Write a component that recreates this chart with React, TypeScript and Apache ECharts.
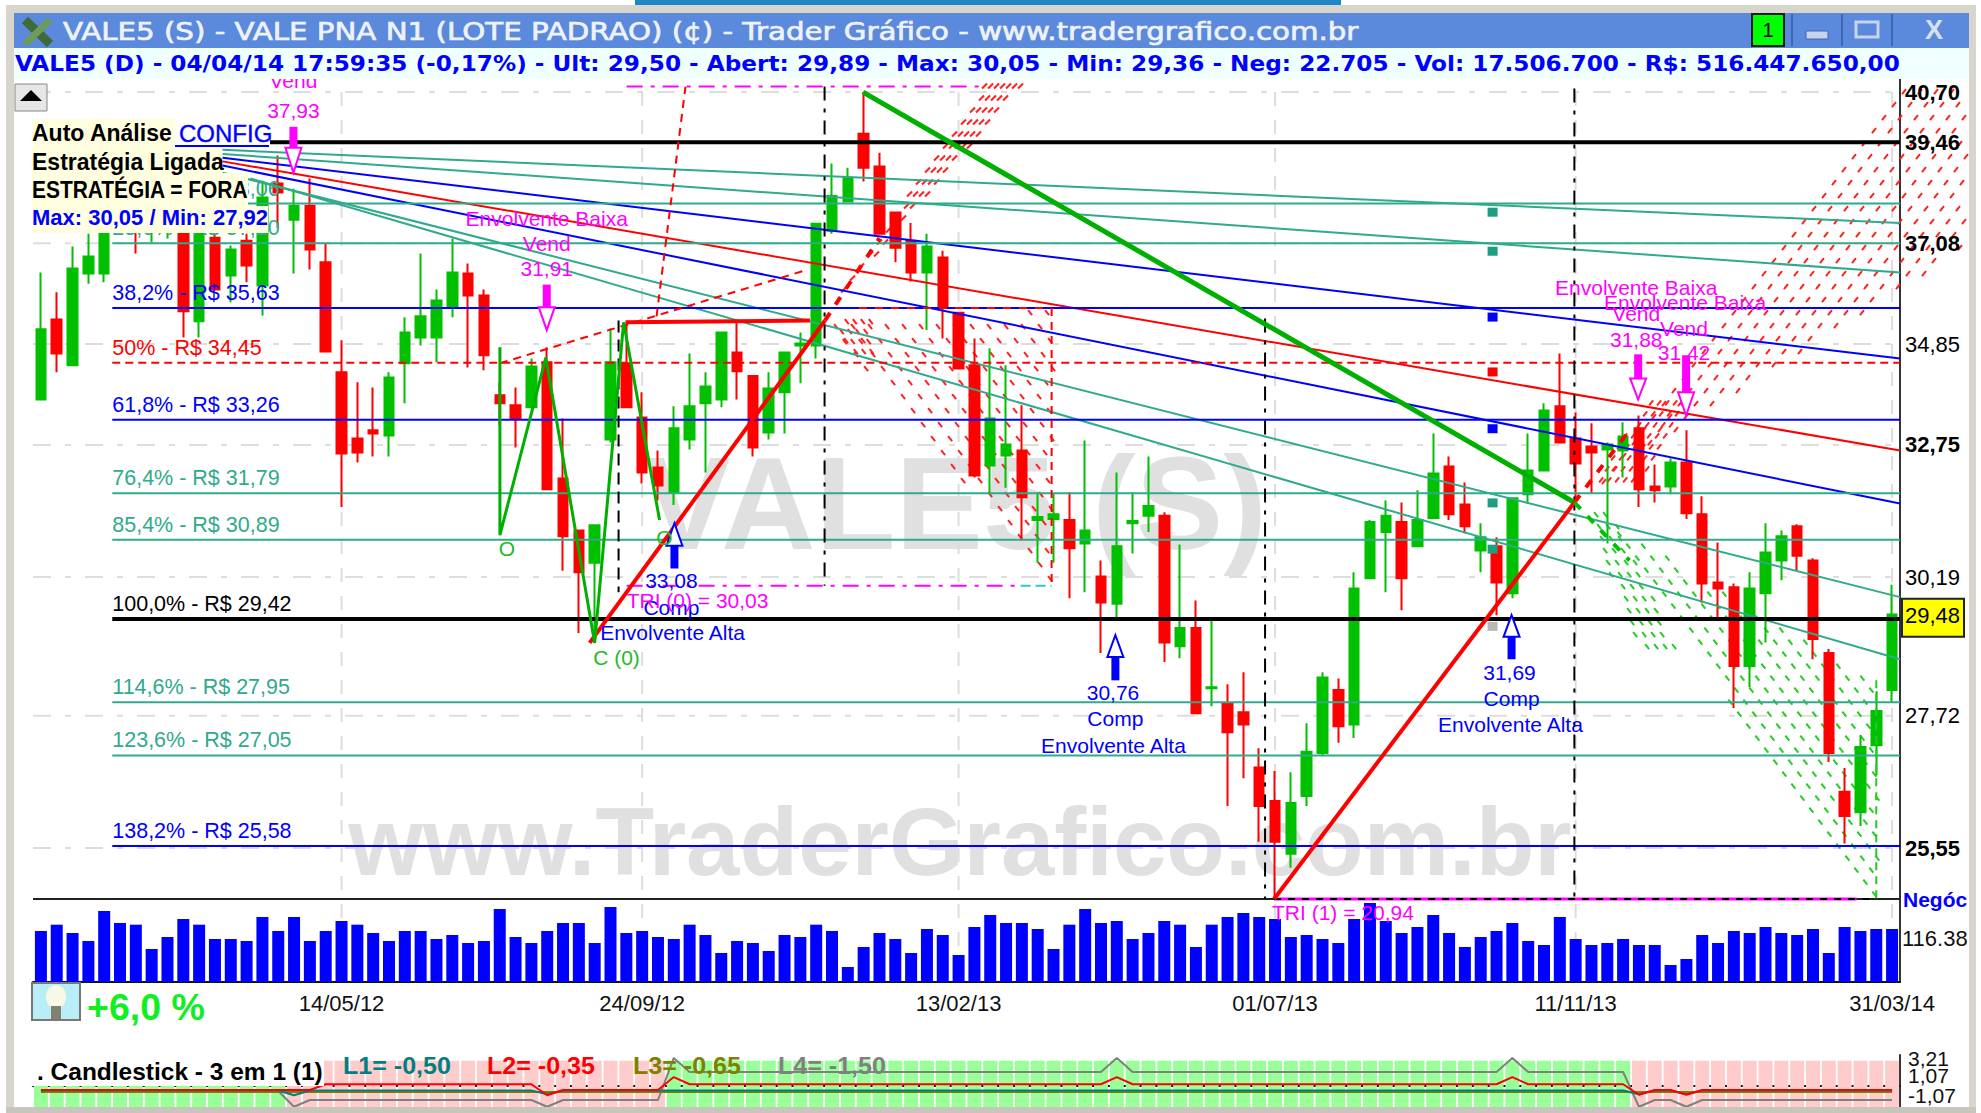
import React, { useEffect, useRef } from "react";
import * as echarts from "echarts";

const SANS = '"Liberation Sans"';
const DEJA = '"DejaVu Sans"';
const TEAL = "#2FAA8C";
const BLUE = "#0000FF";
const RED = "#FF0000";
const MAGENTA = "#FF00FF";
const GREEN = "#00C000";

const dates = [
  "02/01/12","09/01/12","16/01/12","23/01/12","30/01/12","06/02/12","13/02/12","20/02/12","27/02/12","05/03/12",
  "12/03/12","19/03/12","26/03/12","02/04/12","09/04/12","16/04/12","23/04/12","30/04/12","07/05/12","14/05/12",
  "21/05/12","28/05/12","04/06/12","11/06/12","18/06/12","25/06/12","02/07/12","09/07/12","16/07/12","23/07/12",
  "30/07/12","06/08/12","13/08/12","20/08/12","27/08/12","03/09/12","10/09/12","17/09/12","24/09/12","01/10/12",
  "08/10/12","15/10/12","22/10/12","29/10/12","05/11/12","12/11/12","19/11/12","26/11/12","03/12/12","10/12/12",
  "17/12/12","24/12/12","31/12/12","07/01/13","14/01/13","21/01/13","28/01/13","04/02/13","13/02/13","18/02/13",
  "25/02/13","04/03/13","11/03/13","18/03/13","25/03/13","01/04/13","08/04/13","15/04/13","22/04/13","29/04/13",
  "06/05/13","13/05/13","20/05/13","27/05/13","03/06/13","10/06/13","17/06/13","24/06/13","01/07/13","08/07/13",
  "15/07/13","22/07/13","29/07/13","05/08/13","12/08/13","19/08/13","26/08/13","02/09/13","09/09/13","16/09/13",
  "23/09/13","30/09/13","07/10/13","14/10/13","21/10/13","28/10/13","04/11/13","11/11/13","18/11/13","25/11/13",
  "02/12/13","09/12/13","16/12/13","23/12/13","30/12/13","06/01/14","13/01/14","20/01/14","27/01/14","03/02/14",
  "10/02/14","17/02/14","24/02/14","03/03/14","10/03/14","17/03/14","24/03/14","31/03/14",
];
const dateTickIndex = [19, 38, 58, 78, 97, 117];

// open, close, low, high
const candles = [
  [33.68,35.17,33.68,36.42],[35.38,34.65,34.25,35.98],[34.40,36.51,34.40,37.01],[36.40,36.78,36.17,37.30],[36.40,37.49,36.20,37.71],
  [37.49,38.07,37.32,38.30],[38.30,37.49,36.85,38.54],[37.49,38.07,37.10,38.42],[37.42,37.95,37.19,38.30],[37.79,35.56,34.99,38.07],
  [35.34,37.95,34.99,38.18],[37.21,36.04,36.04,37.30],[36.35,36.94,35.76,37.03],[37.14,36.58,36.20,37.30],[36.13,38.14,35.47,38.54],
  [38.47,38.26,37.44,39.14],[37.62,37.95,36.40,38.35],[37.95,36.94,36.49,38.59],[36.65,34.69,34.69,37.07],[34.25,32.58,31.52,34.93],
  [32.88,32.60,32.40,34.04],[33.05,32.98,32.52,33.93],[32.94,34.14,32.52,34.25],[34.44,35.10,33.60,35.43],[34.99,35.45,34.82,36.85],
  [34.99,35.80,34.46,36.04],[35.65,36.42,35.43,37.19],[36.40,35.91,34.35,36.62],[35.91,34.61,34.29,36.04],[33.77,33.60,33.15,34.04],
  [33.56,33.29,32.70,33.93],[33.52,34.37,33.52,34.54],[34.46,31.87,31.87,34.78],[32.08,30.96,30.31,33.29],[31.07,30.28,29.17,31.07],
  [30.46,31.17,28.99,31.17],[32.86,34.46,32.80,35.19],[34.44,33.52,33.52,35.36],[33.31,32.20,31.98,33.83],[32.30,31.94,31.65,32.64],
  [31.81,33.09,31.56,33.54],[32.86,33.54,32.66,34.65],[33.60,33.95,32.20,34.25],[33.68,35.10,33.52,35.10],[34.67,34.27,33.68,35.32],
  [34.17,32.70,32.52,34.19],[33.00,33.91,32.86,34.25],[33.83,34.67,32.98,34.67],[34.82,34.86,34.02,35.10],[34.82,37.53,34.54,37.53],
  [37.37,38.18,37.30,38.95],[38.05,38.61,38.05,38.85],[39.67,38.85,38.52,40.70],[38.88,37.30,37.30,39.21],[37.79,36.98,36.65,37.79],
  [37.14,36.42,36.22,37.55],[36.42,37.01,35.15,37.30],[36.76,35.63,34.97,36.91],[35.53,34.33,34.33,35.53],[34.40,32.14,32.10,34.97],
  [32.34,33.29,31.77,34.76],[32.54,32.76,31.90,34.40],[32.64,31.71,30.88,33.56],[31.27,31.33,30.46,31.81],[31.29,31.38,30.46,31.79],
  [31.27,30.73,29.80,31.81],[30.82,31.07,29.91,32.84],[30.20,29.72,28.81,30.50],[29.70,30.77,29.45,32.20],[31.21,31.25,30.63,31.81],
  [31.35,31.54,31.04,32.52],[31.35,29.00,28.65,31.42],[28.93,29.26,28.72,30.80],[29.26,27.76,27.75,29.76],[28.19,28.21,27.88,29.44],
  [27.92,27.44,26.22,28.26],[27.78,27.57,26.67,28.47],[26.85,26.22,25.65,27.17],[26.30,25.65,24.76,26.79],[25.46,26.27,25.24,26.77],
  [26.38,27.11,26.22,27.59],[27.09,28.38,27.05,28.47],[28.16,27.54,27.26,28.36],[27.57,29.98,27.34,30.28],[30.17,31.23,30.17,31.27],
  [31.04,31.35,29.91,31.65],[31.23,30.17,29.58,31.61],[30.77,31.27,30.77,31.85],[31.31,32.18,31.31,32.98],[32.32,31.38,31.27,32.52],
  [31.57,31.15,31.01,32.00],[30.69,30.94,30.28,31.21],[30.77,30.09,29.49,30.94],[29.89,31.69,29.80,31.69],[31.77,32.24,31.59,32.98],
  [32.24,33.45,32.24,33.60],[33.54,32.80,32.80,34.65],[32.88,32.38,31.59,33.41],[32.72,32.60,31.79,33.19],[32.66,32.76,30.82,32.80],
  [32.64,32.92,32.10,33.21],[33.09,31.87,31.52,33.35],[31.92,31.85,31.61,32.36],[31.92,32.40,31.77,32.48],[32.40,31.40,31.29,33.05],
  [31.38,30.07,29.72,31.73],[30.09,29.98,29.45,30.84],[30.00,28.58,27.85,30.07],[28.58,29.98,28.21,30.28],[29.89,30.65,29.00,31.21],
  [30.50,30.96,30.13,31.07],[31.15,30.59,30.31,31.19],[30.50,29.06,28.70,30.54],[28.81,27.09,26.94,28.88],[26.45,26.06,25.62,26.84],
  [26.12,27.19,25.90,27.39],[27.22,27.80,26.72,28.14],[28.16,29.50,27.94,30.05],
];

const volumes = [
  138,155.1,132.6,110.9,192.1,159.7,155.1,89.3,121.8,170.5,155.1,116.4,116.4,110.9,175.9,138,175.9,110.9,138,165.1,
  155.1,132.6,110.9,138,138,116.4,127.2,105.5,110.9,197.5,121.8,105.5,138,159.7,159.7,105.5,203,132.6,138,121.8,
  116.4,155.1,127.2,78.5,110.9,105.5,83.9,127.2,121.8,155.1,138,40.6,94.7,132.6,116.4,78.5,143.4,127.2,73.1,148.8,
  181.3,159.7,159.7,143.4,89.3,155.1,197.5,159.7,165.1,116.4,132.6,165.1,155.1,94.7,155.1,175.9,186.7,175.9,170.5,121.8,
  127.2,116.4,105.5,170.5,213.8,165.1,132.6,148.8,181.3,132.6,94.7,121.8,138,159.7,110.9,100.1,175.9,116.4,100.1,105.5,
  116.4,100.1,100.1,46,62.2,127.2,105.5,138,132.6,148.8,132.6,127.2,143.4,78.5,148.8,138,143.4,143.4,
];

// +1 = green stripe, -1 = pink stripe
const panelSignal = [
  1,1,1,1,1,1,1,1,1,1,1,1,1,1,1,1,
  -1,-1,-1,-1,-1,-1,-1,-1,-1,-1,-1,-1,-1,-1,-1,-1,-1,-1,-1,-1,-1,-1,-1,-1,
  1,1,1,1,1,1,1,1,1,1,1,1,1,1,1,1,1,1,1,1,1,1,1,1,1,1,1,1,1,1,
  1,1,1,1,1,1,1,1,1,1,1,1,1,1,1,1,1,1,1,1,1,1,1,1,1,1,1,1,1,1,1,
  -1,-1,-1,-1,-1,-1,-1,-1,-1,-1,-1,-1,-1,-1,-1,-1,-1,
];
const panelL1 = [
  -.5,-.5,-.5,-.5,-.5,-.5,-.5,-.5,-.5,-.5,-.5,-.5,-.5,-.5,-.5,-.5,-1,-.5,-.5,-.5,-.5,-.5,-.5,-.5,-.5,-.5,-.5,-.5,-.5,-.5,
  -.5,-.5,-.9,-.5,-.5,-.5,-.5,-.5,-.5,-.5,-.5,-.5,-.5,-.5,-.5,-.5,-.5,-.5,-.5,-.5,-.5,-.5,-.5,-.5,-.5,-.5,-.5,-.5,-.5,-.5,
  -.5,-.5,-.5,-.5,-.5,-.5,-.5,-.5,-.5,-.5,-.5,-.5,-.5,-.5,-.5,-.5,-.5,-.5,-.5,-.5,-.5,-.5,-.5,-.5,-.5,-.5,-.5,-.5,-.5,-.5,
  -.5,-.5,-.5,-.5,-.5,-.5,-.5,-.5,-.5,-.5,-.5,-.9,-.5,-.5,-.9,-.5,-.5,-.5,-.5,-.5,-.5,-.5,-.5,-.5,-.5,-.5,-.5,-.5,
];
const panelL2 = [
  -.45,-.45,-.45,-.45,-.45,-.45,-.45,-.45,-.45,-.45,-.45,-.45,-.45,-.45,-.45,-.45,-.45,-.45,.15,.15,.15,.15,.15,.15,.15,.15,.15,.15,.15,.15,
  .15,.15,-1,-.45,-.45,-.45,-.45,-.45,-.45,-.45,.9,.15,.15,.15,.15,.15,.15,.15,.15,.15,.15,.15,.15,.15,.15,.15,.15,.15,.15,.15,
  .15,.15,.15,.15,.15,.15,.15,.15,.9,.15,.15,.15,.15,.15,.15,.15,.15,.15,.15,.15,.15,.15,.15,.15,.15,.15,.15,.15,.15,.15,
  .15,.15,.15,.9,.15,.15,.15,.15,.15,.15,.15,-.95,-.45,-.45,-.95,-.45,-.45,-.45,-.45,-.45,-.45,-.45,-.45,-.45,-.45,-.45,-.45,-.45,
];
const panelL3 = [
  -.65,-.65,-.65,-.65,-.65,-.65,-.65,-.65,-.65,-.65,-.65,-.65,-.65,-.65,-.65,-.65,-.65,-.65,-.65,-.65,-.65,-.65,-.65,-.65,-.65,-.65,-.65,-.65,-.65,-.65,
  -.65,-.65,-.65,-.65,-.65,-.65,-.65,-.65,-.65,-.65,-.65,-.65,-.65,-.65,-.65,-.65,-.65,-.65,-.65,-.65,-.65,-.65,-.65,-.65,-.65,-.65,-.65,-.65,-.65,-.65,
  -.65,-.65,-.65,-.65,-.65,-.65,-.65,-.65,-.65,-.65,-.65,-.65,-.65,-.65,-.65,-.65,-.65,-.65,-.65,-.65,-.65,-.65,-.65,-.65,-.65,-.65,-.65,-.65,-.65,-.65,
  -.65,-.65,-.65,-.65,-.65,-.65,-.65,-.65,-.65,-.65,-.65,-.65,-.65,-.65,-.65,-.65,-.65,-.65,-.65,-.65,-.65,-.65,-.65,-.65,-.65,-.65,-.65,-.65,
];
const panelL4 = [
  -.55,-.55,-.55,-.55,-.55,-.55,-.55,-.55,-.55,-.55,-.55,-.55,-.55,-.55,-.55,-.55,-2.2,-1.5,-1.5,-1.5,-1.5,-1.5,-1.5,-1.5,-1.5,-1.5,-1.5,-1.5,-1.5,-1.5,
  -1.5,-1.5,-2.2,-1.5,-1.5,-1.5,-1.5,-1.5,-1.5,-1.5,2.9,1.43,1.43,1.43,1.43,1.43,1.43,1.43,1.43,1.43,1.43,1.43,1.43,1.43,1.43,1.43,1.43,1.43,1.43,1.43,
  1.43,1.43,1.43,1.43,1.43,1.43,1.43,1.43,2.9,1.43,1.43,1.43,1.43,1.43,1.43,1.43,1.43,1.43,1.43,1.43,1.43,1.43,1.43,1.43,1.43,1.43,1.43,1.43,1.43,1.43,
  1.43,1.43,1.43,2.9,1.43,1.43,1.43,1.43,1.43,1.43,1.43,-2.2,-1.5,-1.5,-2.2,-1.5,-1.5,-1.5,-1.5,-1.5,-1.5,-1.5,-1.5,-1.5,-1.5,-1.5,-1.5,-1.5,
];
const panelTicks = [
  { value: 3.21, text: "3,21", nudge: 3 },
  { value: 1.07, text: "1,07", nudge: 0 },
  { value: -1.07, text: "-1,07", nudge: 0 },
];

const priceTicks = [
  { value: 40.7, text: "40,70", bold: true }, { value: 39.46, text: "39,46", bold: true },
  { value: 37.08, text: "37,08", bold: true }, { value: 34.85, text: "34,85", bold: false },
  { value: 32.75, text: "32,75", bold: true }, { value: 30.19, text: "30,19", bold: false },
  { value: 27.72, text: "27,72", bold: false }, { value: 25.55, text: "25,55", bold: true },
];
const lastPrice = [{ value: 29.48, text: "29,48" }];
const gridPrices = [40.7, 37.08, 34.85, 32.75, 30.19, 27.72, 25.55];

const fibLevels = [
  { value: 39.46, label: "", color: "#000000", width: 4, dash: null },
  { value: 38.0, label: "14,6% - R$ 38,06", color: TEAL, width: 2, dash: null },
  { value: 37.08, label: "23,6% - R$ 37,10", color: TEAL, width: 2, dash: null },
  { value: 35.63, label: "38,2% - R$ 35,63", color: BLUE, width: 2, dash: null },
  { value: 34.45, label: "50% - R$ 34,45", color: RED, width: 2, dash: [8, 5] },
  { value: 33.26, label: "61,8% - R$ 33,26", color: BLUE, width: 2, dash: null },
  { value: 31.79, label: "76,4% - R$ 31,79", color: TEAL, width: 2, dash: null },
  { value: 30.89, label: "85,4% - R$ 30,89", color: TEAL, width: 2, dash: null },
  { value: 29.42, label: "100,0% - R$ 29,42", color: "#000000", width: 4, dash: null },
  { value: 27.95, label: "114,6% - R$ 27,95", color: TEAL, width: 2, dash: null },
  { value: 27.05, label: "123,6% - R$ 27,05", color: TEAL, width: 2, dash: null },
  { value: 25.58, label: "138,2% - R$ 25,58", color: BLUE, width: 2, dash: null },
];
const fibStart = 4.51;
const rightEdge = 117.5;

const fanLines = [
  { points: [[11.48, 39.28], [rightEdge, 37.55]], color: TEAL },
  { points: [[11.48, 39.18], [rightEdge, 36.42]], color: TEAL },
  { points: [[11.48, 39.09], [rightEdge, 34.54]], color: BLUE },
  { points: [[11.48, 39.0], [rightEdge, 32.64]], color: RED },
  { points: [[11.48, 38.9], [rightEdge, 31.59]], color: BLUE },
  { points: [[11.48, 38.73], [rightEdge, 29.82]], color: TEAL },
  { points: [[13.25, 38.59], [rightEdge, 28.7]], color: TEAL },
];

const patternLines = [
  { points: [[-0.5, 24.76], [rightEdge, 24.76]], color: "#222222", width: 2 },
  { points: [[29.01, 34.44], [48.24, 36.46]], color: RED, width: 2, dash: [8, 6] },
  { points: [[38.91, 35.45], [40.74, 40.84]], color: RED, width: 2, dash: [8, 6] },
  { points: [[37.02, 40.84], [59.53, 40.84]], color: MAGENTA, width: 2, dash: [16, 8, 4, 8] },
  { points: [[37.02, 30.03], [61.92, 30.03]], color: MAGENTA, width: 2, dash: [16, 8, 4, 8] },
  { points: [[61.92, 30.03], [63.88, 30.03]], color: "#30C8C8", width: 2, dash: [10, 5] },
  { points: [[36.51, 35.36], [36.51, 29.91]], color: "#000000", width: 2, dash: [12, 7] },
  { points: [[49.53, 40.84], [49.53, 30.03]], color: "#000000", width: 2, dash: [14, 8, 4, 8] },
  { points: [[77.37, 35.4], [77.37, 24.76]], color: "#000000", width: 2, dash: [14, 8, 4, 8] },
  { points: [[96.92, 40.79], [96.92, 24.76]], color: "#000000", width: 2, dash: [14, 8, 4, 8] },
  { points: [[63.88, 35.63], [63.88, 30.03]], color: RED, width: 2, dash: [8, 6] },
  { points: [[51.7, 35.63], [63.88, 35.63]], color: RED, width: 2, dash: [8, 8] },
  { points: [[77.94, 24.76], [114.76, 24.76]], color: MAGENTA, width: 3, dash: null },
  { points: [[77.94, 24.76], [116.0, 24.76]], color: "#000000", width: 2, dash: [7, 7] },
  { points: [[116.0, 28.33], [116.0, 24.76]], color: "#22CC22", width: 2, dash: [8, 6] },
  { points: [[51.96, 40.7], [96.92, 31.61]], color: "#00B000", width: 5 },
  { points: [[77.94, 24.76], [96.92, 31.61]], color: RED, width: 4 },
  { points: [[34.68, 28.99], [49.56, 35.36]], color: RED, width: 4 },
  { points: [[37.0, 35.32], [48.6, 35.36]], color: RED, width: 4 },
  { points: [[49.56, 35.36], [53.0, 37.2]], color: RED, width: 4, dash: [9, 10] },
  { points: [[96.92, 31.61], [100.5, 33.09]], color: RED, width: 4, dash: [9, 10] },
  { points: [[96.92, 31.61], [100.4, 30.5]], color: "#00C000", width: 4, dash: [9, 10] },
  { points: [[29.01, 34.78], [29.01, 30.98], [31.91, 34.56], [35.0, 28.99], [36.83, 35.32], [39.1, 31.27]], color: "#00B000", width: 3 },
];

const hatches = [
  { polygon: [[59.53, 40.84], [61.92, 40.84], [50.0, 35.69]], stepX: 6, stepY: 12, shear: 3, tick: [5, -5], color: "#FF2020" },
  { polygon: [[49.5, 35.36], [63.88, 35.63], [63.88, 30.03]], stepX: 17, stepY: 14, shear: 10, tick: [4, 5], color: "#FF2020" },
  { polygon: [[50.3, 35.43], [52.4, 35.43], [52.4, 34.5], [50.6, 34.9]], stepX: 8, stepY: 10, shear: 3, tick: [4, 5], color: "#FF2020" },
  { polygon: [[97.4, 31.65], [116.8, 40.7], [121.6, 40.7], [121.6, 36.91], [104.7, 33.25]], stepX: 16, stepY: 13, shear: 6, tick: [4, -5], color: "#FF2020" },
  { polygon: [[97.6, 31.75], [101.4, 33.6], [104.2, 33.6], [101.1, 32.04]], stepX: 8, stepY: 11, shear: 2, tick: [4, -5], color: "#FF2020" },
  { polygon: [[97.55, 31.55], [116.0, 28.33], [116.0, 24.76]], stepX: 15, stepY: 12, shear: 9, tick: [4, 5], color: "#22CC22" },
  { polygon: [[97.6, 31.46], [99.2, 31.46], [103.6, 28.77], [101.1, 28.77]], stepX: 9, stepY: 12, shear: 3, tick: [4, 5], color: "#22CC22" },
];

const arrows = [
  { x: 15.96, tail: 39.84, neck: 39.33, tip: 38.73, color: MAGENTA },
  { x: 31.97, tail: 36.15, neck: 35.65, tip: 35.15, color: MAGENTA },
  { x: 100.95, tail: 34.63, neck: 34.12, tip: 33.68, color: MAGENTA },
  { x: 103.98, tail: 34.61, neck: 33.83, tip: 33.35, color: MAGENTA },
  { x: 40.04, tail: 30.35, neck: 30.78, tip: 31.21, color: BLUE },
  { x: 67.91, tail: 28.33, neck: 28.74, tip: 29.13, color: BLUE },
  { x: 92.95, tail: 28.7, neck: 29.1, tip: 29.49, color: BLUE },
];

const fanMarkers = [
  { value: 37.88, color: "#1E9E80" }, { value: 36.98, color: "#1E9E80" }, { value: 35.51, color: BLUE },
  { value: 34.33, color: RED }, { value: 33.15, color: BLUE }, { value: 31.67, color: "#1E9E80" },
  { value: 30.78, color: "#1E9E80" }, { value: 29.35, color: "#B8B8B8" },
];
const fanMarkerX = 91.75;

const annotations = [
  { x: 15.96, y: 41.0, text: "Vend", color: MAGENTA },
  { x: 15.96, y: 40.24, text: "37,93", color: MAGENTA },
  { x: 31.97, y: 37.65, text: "Envolvente Baixa", color: MAGENTA },
  { x: 31.97, y: 37.07, text: "Vend", color: MAGENTA },
  { x: 31.97, y: 36.51, text: "31,91", color: MAGENTA },
  { x: 39.85, y: 30.13, text: "33,08", color: BLUE },
  { x: 39.85, y: 29.63, text: "Comp", color: BLUE },
  { x: 39.92, y: 29.18, text: "Envolvente Alta", color: BLUE },
  { x: 37.02, y: 29.76, text: "TRI (0) = 30,03", color: MAGENTA, left: true },
  { x: 29.45, y: 30.73, text: "O", color: "#22BB22" },
  { x: 36.38, y: 28.73, text: "C (0)", color: "#22BB22" },
  { x: 39.41, y: 30.94, text: "O", color: "#22BB22" },
  { x: 67.76, y: 28.12, text: "30,76", color: BLUE },
  { x: 67.91, y: 27.67, text: "Comp", color: BLUE },
  { x: 67.79, y: 27.22, text: "Envolvente Alta", color: BLUE },
  { x: 92.82, y: 28.47, text: "31,69", color: BLUE },
  { x: 92.95, y: 28.02, text: "Comp", color: BLUE },
  { x: 92.88, y: 27.57, text: "Envolvente Alta", color: BLUE },
  { x: 77.81, y: 24.55, text: "TRI (1) = 20,94", color: MAGENTA, left: true },
  { x: 100.83, y: 36.08, text: "Envolvente Baixa", color: MAGENTA },
  { x: 103.92, y: 35.76, text: "Envolvente Baixa", color: MAGENTA },
  { x: 100.83, y: 35.51, text: "Vend", color: MAGENTA },
  { x: 103.85, y: 35.19, text: "Vend", color: MAGENTA },
  { x: 100.83, y: 34.95, text: "31,88", color: MAGENTA },
  { x: 103.85, y: 34.67, text: "31,42", color: MAGENTA },
];

const titleText = "VALE5 (S) - VALE PNA N1 (LOTE PADRAO) (¢) - Trader Gráfico - www.tradergrafico.com.br";
const infoText = "VALE5 (D) - 04/04/14 17:59:35 (-0,17%) - Ult: 29,50 - Abert: 29,89 - Max: 30,05 - Min: 29,36 - Neg: 22.705 - Vol: 17.506.700 - R$: 516.447.650,00";
const panelLabels = [
  { text: "L1= -0,50", x: 343, color: "#008080" },
  { text: "L2= -0,35", x: 487, color: RED },
  { text: "L3= -0,65", x: 633, color: "#808000" },
  { text: "L4= -1,50", x: 778, color: "#808080" },
];

function txt(text: string, x: number, y: number, font: string, fill: string, align = "left", z = 50, scaleX = 1, stroke?: number) {
  return {
    type: "text", x, y, z, scaleX, silent: true,
    style: {
      text, font, fill, align, verticalAlign: "middle", textAlign: align, textVerticalAlign: "middle",
      ...(stroke ? { stroke: fill, lineWidth: stroke } : {}),
    },
  };
}
const rect = (x: number, y: number, w: number, h: number, fill: string, z = 40, extra: any = {}) => ({
  type: "rect", z, silent: true, shape: { x, y, width: w, height: h },
  style: { fill, stroke: extra.stroke, lineWidth: extra.lineWidth },
});
const seg = (x1: number, y1: number, x2: number, y2: number, stroke: string, w: number, z = 50) => ({
  type: "line", z, silent: true, shape: { x1, y1, x2, y2 }, style: { stroke, lineWidth: w },
});

function overlay(name: string, list: any[], z: number, draw: (d: any, api: any) => any, axes: any = { xAxisIndex: 1, yAxisIndex: 0 }) {
  return {
    type: "custom", name, ...axes, z, silent: true, clip: false,
    data: list.map((_, k) => [k, 0]),
    renderItem: (p: any, api: any) => draw(list[p.dataIndex], api),
  };
}

function inside(pt: number[], poly: number[][]) {
  let hit = false;
  for (let i = 0, j = poly.length - 1; i < poly.length; j = i++) {
    const a = poly[i], b = poly[j];
    if ((a[1] > pt[1]) !== (b[1] > pt[1]) && pt[0] < ((b[0] - a[0]) * (pt[1] - a[1])) / (b[1] - a[1]) + a[0]) hit = !hit;
  }
  return hit;
}

const FONT_NOTE = `21px ${SANS}`;
const FONT_FIB = `21.5px ${SANS}`;

function buildOption() {
  const series: any[] = [];

  series.push(overlay("grid", [
    ...gridPrices.map((v) => ({ h: v })),
    ...dateTickIndex.map((i) => ({ v: i })),
  ], 1, (d, api) => {
    if (d.h !== undefined) {
      const a = api.coord([-0.5, d.h]);
      const b = api.coord([rightEdge, d.h]);
      return { type: "line", shape: { x1: a[0], y1: a[1], x2: b[0], y2: b[1] }, style: { stroke: "#DDDDDD", lineWidth: 2, lineDash: [18, 14, 6, 14] } };
    }
    const a = api.coord([d.v, 40.7]);
    const b = api.coord([d.v, 24.76]);
    return { type: "line", shape: { x1: a[0], y1: a[1], x2: b[0], y2: b[1] + 83 }, style: { stroke: "#DDDDDD", lineWidth: 2, lineDash: [14, 14] } };
  }));

  series.push(overlay("hatch", hatches, 2, (h, api) => {
    const poly = h.polygon.map((p: number[]) => api.coord(p));
    const xs = poly.map((p: number[]) => p[0]);
    const ys = poly.map((p: number[]) => p[1]);
    const x0 = Math.min(...xs), x1 = Math.max(...xs), y0 = Math.min(...ys), y1 = Math.max(...ys);
    const children: any[] = [];
    let row = 0;
    for (let y = y0 + 2; y <= y1; y += h.stepY, row++) {
      for (let x = x0 - h.stepX + ((row * h.shear) % h.stepX); x <= x1; x += h.stepX) {
        if (inside([x, y], poly)) {
          children.push({ type: "line", shape: { x1: x, y1: y, x2: x + h.tick[0], y2: y + h.tick[1] }, style: { stroke: h.color, lineWidth: 2 } });
        }
      }
    }
    return { type: "group", children };
  }));

  series.push({
    type: "candlestick", name: "VALE5", xAxisIndex: 0, yAxisIndex: 0, z: 3, barWidth: 10, silent: true, clip: false,
    itemStyle: { color: GREEN, color0: RED, borderColor: GREEN, borderColor0: RED, borderWidth: 2 },
    data: candles,
  });

  series.push({
    type: "bar", name: "Negóc", xAxisIndex: 2, yAxisIndex: 1, barWidth: 12, silent: true, z: 3,
    itemStyle: { color: BLUE }, data: volumes,
  });

  series.push({
    type: "bar", name: "3 em 1", xAxisIndex: 3, yAxisIndex: 3, barWidth: 14, silent: true, z: 1,
    data: panelSignal.map((s) => ({ value: 1, itemStyle: { color: s > 0 ? "#99FF99" : "#FFCCCC" } })),
  });
  [
    { name: "L4", data: panelL4, color: "#808080", width: 2 },
    { name: "L3", data: panelL3, color: "#808000", width: 2 },
    { name: "L1", data: panelL1, color: "#008080", width: 2 },
    { name: "L2", data: panelL2, color: RED, width: 2 },
  ].forEach((l) => series.push({
    type: "line", name: l.name, xAxisIndex: 3, yAxisIndex: 2, z: 3, symbol: "none", silent: true,
    lineStyle: { color: l.color, width: l.width }, data: l.data,
  }));
  series.push(overlay("panelTicks", panelTicks, 4, (t, api) => {
    const c = api.coord([dates.length - 1, t.value]);
    return {
      type: "text", x: c[0] + 16, y: c[1] + t.nudge,
      style: { text: t.text, font: `21px ${SANS}`, fill: "#111111", align: "left", verticalAlign: "middle", textAlign: "left", textVerticalAlign: "middle" },
    };
  }, { xAxisIndex: 3, yAxisIndex: 2 }));

  series.push(overlay("fan", fanLines, 4, (l, api) => ({
    type: "polyline", shape: { points: l.points.map((p: number[]) => api.coord(p)) },
    style: { stroke: l.color, lineWidth: 2, fill: "none" },
  })));

  series.push(overlay("fib", fibLevels, 4, (l, api) => {
    const a = api.coord([fibStart, l.value]);
    const b = api.coord([rightEdge, l.value]);
    const children: any[] = [
      { type: "line", shape: { x1: a[0], y1: a[1], x2: b[0], y2: b[1] }, style: { stroke: l.color, lineWidth: l.width, lineDash: l.dash || undefined } },
    ];
    if (l.label) {
      children.push({
        type: "text", x: a[0], y: a[1] - 15,
        style: { text: l.label, font: FONT_FIB, fill: l.color, align: "left", verticalAlign: "middle", textAlign: "left", textVerticalAlign: "middle" },
      });
    }
    return { type: "group", children };
  }));

  series.push(overlay("pattern", patternLines, 5, (l, api) => ({
    type: "polyline", shape: { points: l.points.map((p: number[]) => api.coord(p)) },
    style: { stroke: l.color, lineWidth: l.width, lineDash: l.dash || undefined, fill: "none" },
  })));

  series.push(overlay("markers", fanMarkers, 5, (m, api) => {
    const c = api.coord([fanMarkerX, m.value]);
    return { type: "rect", shape: { x: c[0] - 5, y: c[1] - 1, width: 10, height: 9 }, style: { fill: m.color } };
  }));

  series.push(overlay("arrows", arrows, 6, (a, api) => {
    const t = api.coord([a.x, a.tail]), n = api.coord([a.x, a.neck]), p = api.coord([a.x, a.tip]);
    return {
      type: "group",
      children: [
        { type: "rect", shape: { x: t[0] - 4, y: Math.min(t[1], n[1]), width: 8, height: Math.abs(n[1] - t[1]) }, style: { fill: a.color } },
        { type: "polygon", shape: { points: [[n[0] - 8, n[1]], [n[0] + 8, n[1]], [p[0], p[1]]] }, style: { fill: "#FFFFFF", stroke: a.color, lineWidth: 2 } },
      ],
    };
  }));

  series.push(overlay("notes", annotations, 6, (t, api) => {
    const c = api.coord([t.x, t.y]);
    const align = t.left ? "left" : "center";
    return {
      type: "text", x: c[0], y: c[1],
      style: { text: t.text, font: FONT_NOTE, fill: t.color, align, verticalAlign: "middle", textAlign: align, textVerticalAlign: "middle" },
    };
  }));

  series.push(overlay("priceLabels", priceTicks, 7, (t, api) => {
    const c = api.coord([rightEdge, t.value]);
    return {
      type: "text", x: c[0] + 5, y: c[1],
      style: { text: t.text, font: `${t.bold ? "bold " : ""}22px ${SANS}`, fill: "#000000", align: "left", verticalAlign: "middle", textAlign: "left", textVerticalAlign: "middle" },
    };
  }));
  series.push(overlay("lastPrice", lastPrice, 8, (t, api) => {
    const c = api.coord([rightEdge, t.value]);
    return {
      type: "group",
      children: [
        { type: "rect", shape: { x: c[0] + 2, y: c[1] - 17, width: 62, height: 38 }, style: { fill: "#FFFF00", stroke: "#222222", lineWidth: 2 } },
        { type: "text", x: c[0] + 5, y: c[1], style: { text: t.text, font: `22px ${SANS}`, fill: "#000000", align: "left", verticalAlign: "middle", textAlign: "left", textVerticalAlign: "middle" } },
      ],
    };
  }));

  const graphics: any[] = [
    txt("VALE5 (S)", 955, 503, `bold 131px ${SANS}`, "#E0E0E0", "center", 0),
    txt("www.TraderGrafico.com.br", 960, 841, `bold 96px ${SANS}`, "#E0E0E0", "center", 0),

    rect(6, 5, 1970, 8, "#D8D5CC", 40),
    rect(6, 5, 8, 1108, "#D8D5CC", 40),
    rect(1969, 5, 7, 1108, "#D8D5CC", 40),
    rect(6, 1107, 1970, 6, "#C8C5BC", 40),
    rect(635, 0, 706, 5, "#1E86C8", 60),
    rect(14, 13, 1955, 35, "#5B89DC", 41),
    rect(14, 48, 1955, 31, "#F0FFFF", 41),
    seg(25, 20, 50, 44, "#3E6B3A", 9, 42),
    seg(50, 20, 25, 44, "#6F9B5A", 7, 42),
    txt(titleText, 63, 31, `24px ${DEJA}`, "#EEF2FA", "left", 43, 1.22, 0.7),
    txt(infoText, 15, 63, `bold 21px ${DEJA}`, BLUE, "left", 43, 1.105),

    rect(1752, 14, 32, 32, "#00FF00", 42, { stroke: "#1A1A1A", lineWidth: 2 }),
    txt("1", 1768, 30, `20px ${SANS}`, "#000000", "center", 43),
    seg(1792, 14, 1792, 46, "#3D68B0", 2, 42),
    seg(1842, 14, 1842, 46, "#3D68B0", 2, 42),
    seg(1892, 14, 1892, 46, "#3D68B0", 2, 42),
    rect(1806, 31, 22, 8, "#C8D4EC", 43, { stroke: "#3D68B0", lineWidth: 1 }),
    rect(1856, 22, 22, 15, "none", 43, { stroke: "#C8D4EC", lineWidth: 3 }),
    txt("X", 1934, 30, `bold 27px ${SANS}`, "#D8E0F0", "center", 43),

    rect(15, 84, 32, 27, "#E6E6E6", 42, { stroke: "#888888", lineWidth: 1 }),
    { type: "polygon", z: 43, silent: true, shape: { points: [[20, 101], [42, 101], [31, 90]] }, style: { fill: "#000000" } },

    rect(32, 119, 143, 27, "#FFFFE0", 30),
    rect(32, 146, 190, 27, "#FFFFE0", 30),
    rect(32, 173, 216, 33, "#FFFFE0", 30),
    rect(32, 206, 236, 27, "#FFFFE0", 30),
    rect(175, 119, 95, 27, "#FFFFFF", 30),
    txt("Auto Análise", 32, 133, `bold 23px ${SANS}`, "#000000", "left", 31),
    txt("CONFIG", 179, 133, `24px ${SANS}`, BLUE, "left", 31, 1, 0.4),
    seg(175, 146, 269, 146, BLUE, 2, 31),
    txt("Estratégia Ligada", 32, 162, `bold 23px ${SANS}`, "#000000", "left", 31),
    txt("ESTRATÉGIA = FORA", 32, 190, `bold 23px ${SANS}`, "#000000", "left", 31, 0.91),
    txt("Max: 30,05 / Min: 27,92", 32, 217, `bold 22px ${SANS}`, BLUE, "left", 31),

    txt("Negóc", 1903, 899, `bold 21px ${SANS}`, BLUE, "left", 31),

    rect(32, 983, 48, 37, "#B8EEF8", 30, { stroke: "#777777", lineWidth: 2 }),
    { type: "ellipse", z: 31, silent: true, shape: { cx: 56, cy: 997, rx: 10, ry: 12 }, style: { fill: "#F8F8E8" } },
    rect(51, 1006, 10, 13, "#808070", 31),
    txt("+6,0 %", 87, 1007, `bold 37.5px ${SANS}`, "#11EE22", "left", 31),

    rect(32, 1055, 292, 31, "#FFFFFF", 30),
    txt(". Candlestick - 3 em 1 (1)", 37, 1072, `bold 23px ${SANS}`, "#000000", "left", 31, 1.065),
    ...panelLabels.map((l) => txt(l.text, l.x, 1066, `bold 23px ${SANS}`, l.color, "left", 31, 1.09)),
  ];

  const ticksFn = (i: number) => dateTickIndex.includes(i);
  const hiddenAxis = { show: false };
  return {
    animation: false,
    backgroundColor: "#FFFFFF",
    tooltip: { show: false },
    grid: [
      { left: 33, top: 79, width: 1867, height: 820 },
      { left: 33, top: 899, width: 1867, height: 83 },
      { left: 33, top: 1055, width: 1867, height: 52 },
    ],
    xAxis: [
      { type: "category", gridIndex: 0, data: dates, ...hiddenAxis },
      { type: "value", gridIndex: 0, min: -0.5, max: rightEdge, ...hiddenAxis },
      {
        type: "category", gridIndex: 1, data: dates,
        axisLine: { lineStyle: { color: "#111111", width: 2 } },
        axisTick: { alignWithLabel: true, interval: ticksFn, length: 7, lineStyle: { color: "#111111", width: 2 } },
        axisLabel: { interval: ticksFn, color: "#111111", fontFamily: "Liberation Sans", fontSize: 22, margin: 10 },
      },
      {
        type: "category", gridIndex: 2, data: dates,
        axisLine: { onZero: true, onZeroAxisIndex: 2, lineStyle: { color: "#111111", width: 2 } },
        axisTick: { show: false }, axisLabel: { show: false },
      },
    ],
    yAxis: [
      {
        type: "log", logBase: 10, gridIndex: 0, position: "right", min: 24.76, max: 41.03,
        axisLine: { show: true, onZero: false, lineStyle: { color: "#333333", width: 2 } },
        axisTick: { show: false }, axisLabel: { show: false }, splitLine: { show: false },
      },
      {
        type: "value", gridIndex: 1, position: "right", min: 0, max: 224.6,
        axisLine: { show: true, onZero: false, lineStyle: { color: "#333333", width: 2 } },
        axisTick: { show: false }, splitLine: { show: false },
        axisLabel: { customValues: [116.38], formatter: (v: number) => v.toFixed(2), color: "#111111", fontFamily: "Liberation Sans", fontSize: 22, margin: 2 },
      },
      {
        type: "value", gridIndex: 2, position: "right", min: -2.23, max: 3.21,
        axisLine: { show: true, onZero: false, lineStyle: { color: "#333333", width: 2 } },
        axisTick: { show: false }, splitLine: { show: false }, axisLabel: { show: false },
      },
      { type: "value", gridIndex: 2, min: 0, max: 1.123, show: false },
    ],
    series,
    graphic: { elements: graphics },
  };
}

export default function App() {
  const ref = useRef<HTMLDivElement>(null);
  useEffect(() => {
    if (!ref.current) return;
    document.body.style.margin = "0";
    const chart = echarts.init(ref.current, undefined, { renderer: "svg" });
    chart.setOption(buildOption() as any);
    return () => chart.dispose();
  }, []);
  return (
    <div style={{ position: "fixed", left: 0, top: 0, width: 1981, height: 1113, overflow: "hidden" }}>
      <div ref={ref} style={{ width: 1981, height: 1113 }} />
    </div>
  );
}
